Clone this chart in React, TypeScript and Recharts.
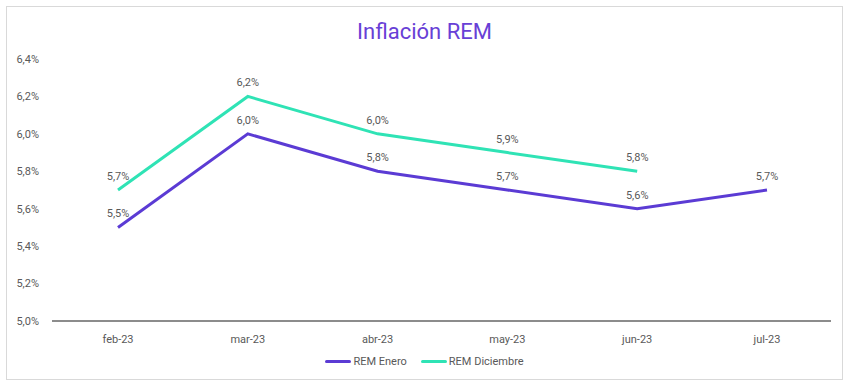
import { LabelList, Line, LineChart, XAxis, YAxis } from 'recharts'

const categories = ['feb-23', 'mar-23', 'abr-23', 'may-23', 'jun-23', 'jul-23']
const remEnero = [5.5, 6.0, 5.8, 5.7, 5.6, 5.7]
const remDiciembre: (number | null)[] = [5.7, 6.2, 6.0, 5.9, 5.8, null]
const yTicks = [5.0, 5.2, 5.4, 5.6, 5.8, 6.0, 6.2, 6.4]

const data = categories.map((mes, i) => ({
  mes,
  enero: remEnero[i],
  diciembre: remDiciembre[i],
}))

const PURPLE = '#5b3bd4'
const TEAL = '#2fe3b5'
const FONT = 'Roboto, "Noto Sans", sans-serif'

const fmtPct = (v: any) => (v == null ? '' : Number(v).toFixed(1).replace('.', ',') + '%')

const series = [
  { key: 'enero', name: 'REM Enero', color: PURPLE },
  { key: 'diciembre', name: 'REM Diciembre', color: TEAL },
]

// leyenda propia, con la línea gruesa delante del nombre
function LegendBox() {
  return (
    <div
      style={{
        position: 'absolute',
        top: 348,
        left: 0,
        width: '100%',
        display: 'flex',
        justifyContent: 'center',
        gap: 14,
        fontFamily: FONT,
        fontSize: 11,
        color: '#595959',
      }}
    >
      {series.map((s) => (
        <div key={s.key} style={{ display: 'flex', alignItems: 'center' }}>
          <span style={{ display: 'inline-block', width: 26, height: 3, borderRadius: 2, background: s.color, marginRight: 2 }} />
          {s.name}
        </div>
      ))}
    </div>
  )
}

export default function App() {
  return (
    <div
      style={{
        position: 'absolute',
        left: 6,
        top: 6,
        width: 837,
        height: 374,
        border: '1px solid #d9d9d9',
        background: '#fff',
        boxSizing: 'border-box',
      }}
    >
      <div
        style={{
          position: 'absolute',
          top: 12,
          left: 0,
          width: '100%',
          textAlign: 'center',
          fontFamily: FONT,
          fontSize: 22,
          color: '#6840d6',
        }}
      >
        Inflación REM
      </div>
      <LineChart width={835} height={372} data={data} margin={{ top: 52, right: 11, bottom: 28, left: 5 }}>
        <XAxis
          dataKey="mes"
          padding={{ left: 66, right: 64 }}
          axisLine={{ stroke: '#8c8c8c', strokeWidth: 2 }}
          tickLine={false}
          tick={{ fill: '#595959', fontSize: 11, fontFamily: FONT }}
          tickMargin={8}
        />
        <YAxis
          domain={[5.0, 6.4]}
          ticks={yTicks}
          width={40}
          axisLine={false}
          tickLine={false}
          tickSize={6}
          tickMargin={7}
          tickFormatter={fmtPct}
          tick={{ fill: '#595959', fontSize: 11, fontFamily: FONT }}
        />
        {series.map((s) => (
          <Line
            key={s.key}
            type="linear"
            dataKey={s.key}
            name={s.name}
            stroke={s.color}
            strokeWidth={3}
            dot={false}
            activeDot={false}
            isAnimationActive={false}
          >
            <LabelList
              dataKey={s.key}
              position="top"
              offset={10}
              formatter={fmtPct}
              style={{ fill: '#595959', fontSize: 11, fontFamily: FONT }}
            />
          </Line>
        ))}
      </LineChart>
      <LegendBox />
    </div>
  )
}
